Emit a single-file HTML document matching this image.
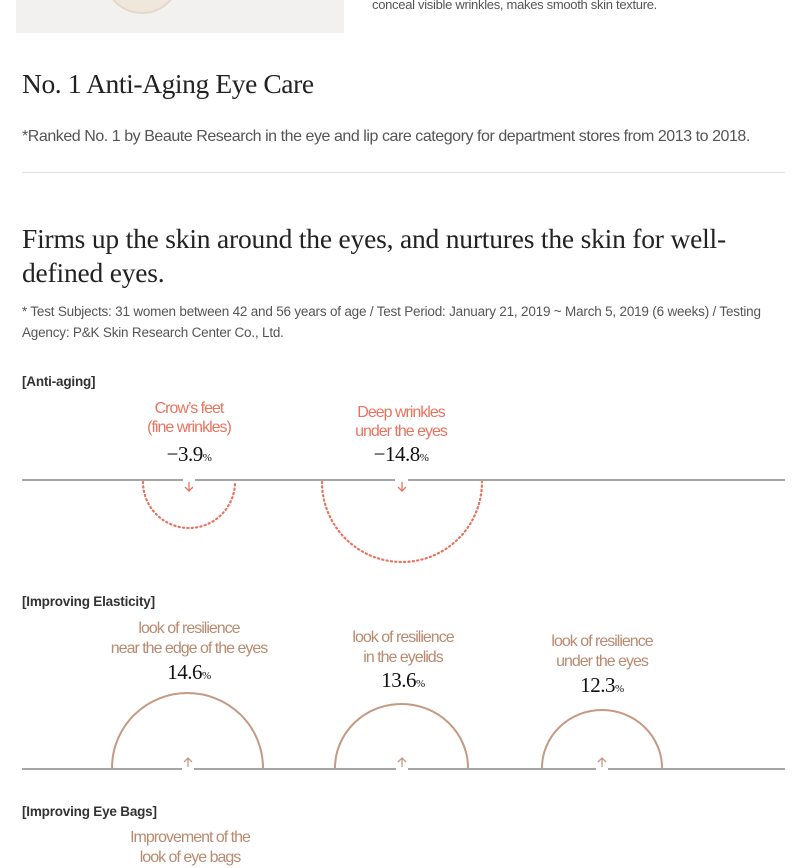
<!DOCTYPE html>
<html><head><meta charset="utf-8"><style>
body{margin:0;width:800px;height:856px;overflow:hidden;background:#fff;position:relative;font-family:"Liberation Sans",sans-serif}
.a{position:absolute;white-space:nowrap}
.serif{font-family:"Liberation Serif",serif;color:#222}
.c{transform:translateX(-50%);text-align:center;letter-spacing:-1px}
.r{color:#e8735f;font-size:16px;line-height:19px}
.b{color:#b88a70;font-size:16px;line-height:20px}
.v{font-family:"Liberation Serif",serif;font-size:21px;color:#111;letter-spacing:-0.5px}
.v small{font-size:11px}
.lab{font-size:13.5px;color:#333;font-weight:bold;letter-spacing:-0.2px}
</style></head><body>
<div class="a" style="left:16px;top:0;width:328px;height:33px;background:#f2f1f0;overflow:hidden">
<div style="position:absolute;left:88px;top:-60px;width:72px;height:70px;border-radius:50%;background:#efe6dc;border:2px solid #e4d8cb"></div></div>
<div class="a" style="left:372px;top:-3px;font-size:13px;color:#555;letter-spacing:-0.3px">conceal visible wrinkles, makes smooth skin texture.</div>
<div class="a serif" style="left:22px;top:68px;font-size:27.5px;letter-spacing:-0.4px">No. 1 Anti-Aging Eye Care</div>
<div class="a" style="left:22px;top:128px;font-size:16px;color:#555;letter-spacing:-0.45px">*Ranked No. 1 by Beaute Research in the eye and lip care category for department stores from 2013 to 2018.</div>
<div class="a" style="left:22px;top:172px;width:763px;height:1px;background:#e2e2e2"></div>
<div class="a serif" style="left:22px;top:222px;font-size:27.5px;line-height:34px;white-space:normal;width:770px;letter-spacing:-0.2px">Firms up the skin around the eyes, and nurtures the skin for well-<br>defined eyes.</div>
<div class="a" style="left:22px;top:301px;font-size:13.5px;line-height:21px;color:#555;letter-spacing:-0.2px">* Test Subjects: 31 women between 42 and 56 years of age / Test Period: January 21, 2019 ~ March 5, 2019 (6 weeks) / Testing<br>Agency: P&amp;K Skin Research Center Co., Ltd.</div>
<div class="a lab" style="left:22px;top:374px">[Anti-aging]</div>
<div class="a c r" style="left:189px;top:399px">Crow’s feet<br>(fine wrinkles)</div>
<div class="a c v" style="left:189px;top:442px">−3.9<small>%</small></div>
<div class="a c r" style="left:401px;top:403px">Deep wrinkles<br>under the eyes</div>
<div class="a c v" style="left:401px;top:442px">−14.8<small>%</small></div>
<div class="a lab" style="left:22px;top:594px">[Improving Elasticity]</div>
<div class="a c b" style="left:189px;top:619px">look of resilience<br>near the edge of the eyes</div>
<div class="a c v" style="left:189px;top:660px">14.6<small>%</small></div>
<div class="a c b" style="left:403px;top:628px">look of resilience<br>in the eyelids</div>
<div class="a c v" style="left:403px;top:668px">13.6<small>%</small></div>
<div class="a c b" style="left:602px;top:632px">look of resilience<br>under the eyes</div>
<div class="a c v" style="left:602px;top:673px">12.3<small>%</small></div>
<div class="a lab" style="left:22px;top:804px">[Improving Eye Bags]</div>
<div class="a c b" style="left:190px;top:828px">Improvement of the<br>look of eye bags</div>
<svg class="a" style="left:0;top:0" width="800" height="856">
<g stroke="#a5a5a5" stroke-width="2">
<line x1="22" y1="480" x2="183" y2="480"/><line x1="195" y1="480" x2="395" y2="480"/><line x1="408" y1="480" x2="785" y2="480"/>
<line x1="22" y1="769" x2="182" y2="769"/><line x1="194" y1="769" x2="396" y2="769"/><line x1="408" y1="769" x2="596" y2="769"/><line x1="608" y1="769" x2="785" y2="769"/>
</g>
<g fill="none" stroke="#e8735f" stroke-width="2.2" stroke-dasharray="1.2 3.2" stroke-linecap="round">
<path d="M143 482 A46 46 0 0 0 235 482"/>
<path d="M322 482 A80 80 0 0 0 482 482"/>
</g>
<g fill="none" stroke="#e8735f" stroke-width="1.3">
<path d="M189 482 V491 M185 487 L189 491 L193 487"/>
<path d="M402 482 V491 M398 487 L402 491 L406 487"/>
</g>
<g fill="none" stroke="#c49a83" stroke-width="2">
<path d="M112 768 A75.5 75 0 0 1 263 768"/>
<path d="M335 768 A66.5 64 0 0 1 468 768"/>
<path d="M542 768 A60 58 0 0 1 662 768"/>
</g>
<g fill="none" stroke="#c49a83" stroke-width="1.3">
<path d="M188 767 V758 M184 762 L188 758 L192 762"/>
<path d="M402 767 V758 M398 762 L402 758 L406 762"/>
<path d="M602 767 V758 M598 762 L602 758 L606 762"/>
</g>
</svg>
</body></html>
